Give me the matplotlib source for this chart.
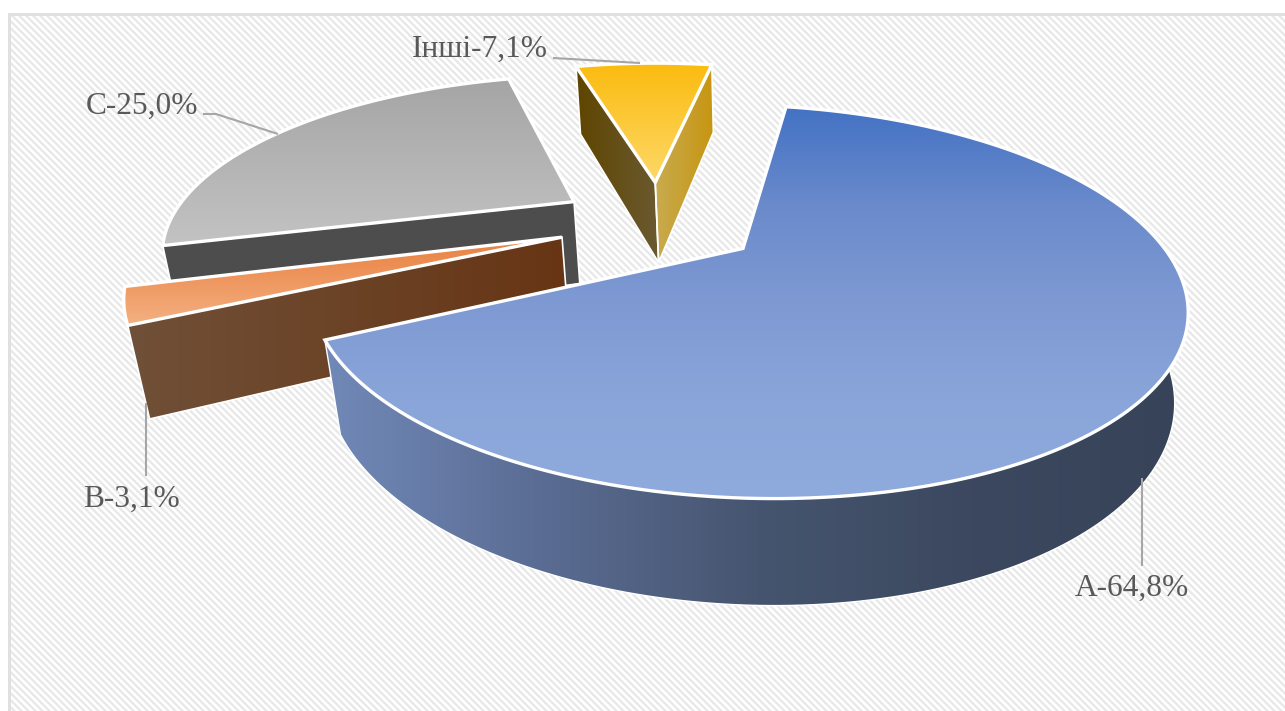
import numpy as np
import matplotlib
matplotlib.use("Agg")
import matplotlib.pyplot as plt
from matplotlib.colors import LinearSegmentedColormap
from matplotlib.patches import Polygon

W, H = 1285, 711

names = ["A", "B", "C", "Інші"]
shares = [64.8, 3.1, 25.0, 7.1]

# percent -> degrees, clockwise from the back of the pie
START_ANGLE = 10.5
EXPLODE = 0.25

# camera settings for the tilted pie, origin at the pie centre
CX, CY = 659, 222
RX, RY = 405, 168.4
DEPTH_Y = 0.26
DEPTH_Z = 0.03
THICK = 86.5
VANISH_X = 120

top_ramps = [
    ["#4472C4", "#6A8ACB", "#7F9AD3", "#8AA5D9", "#8FAADC"],
    ["#E97F3F", "#F4B183"],
    ["#A5A5A5", "#C3C3C3"],
    ["#FBBB0E", "#FDD868"],
]
big_wall = ["#7189B8", "#5A6C93", "#46556F", "#3B485F", "#364358"]
cut_walls = {1: ["#705038", "#673514"], 2: ["#4D4D4D", "#4D4D4D"], 3: ["#5F4500", "#6A5A30"]}
small_right_wall = ["#C8AC50", "#C79510"]
TEXT_COLOR = "#595959"
LEADER_COLOR = "#A6A6A6"


def project(x, y, z=0.0):
    w = 1 + DEPTH_Y * y + DEPTH_Z * z
    sx = CX + (RX * x + VANISH_X * DEPTH_Z * z) / w
    sy = CY + (-RY * y + THICK * z) / w
    return np.column_stack([sx, sy])


def gradient_fill(ax, verts, stops, vertical, zorder):
    x0, y0 = verts.min(axis=0)
    x1, y1 = verts.max(axis=0)
    ramp = LinearSegmentedColormap.from_list("ramp", stops)(np.linspace(0, 1, 256))[:, :3]
    img = ramp[:, None, :] if vertical else ramp[None, :, :]
    im = ax.imshow(img, extent=(x0, x1, y1, y0), origin="upper", aspect="auto",
                   interpolation="bilinear", zorder=zorder)
    im.set_clip_path(Polygon(verts, closed=True, transform=ax.transData))


def outline(ax, verts, lw, zorder):
    ax.add_patch(Polygon(verts, closed=True, fill=False, edgecolor="white",
                         linewidth=lw, joinstyle="miter", zorder=zorder))


def draw_slice(ax, i, a0, a1, base_z):
    mid = np.radians((a0 + a1) / 2)
    ox = EXPLODE * np.sin(mid)
    oy = EXPLODE * np.cos(mid)
    ang = np.radians(np.linspace(a0, a1, 200))
    arc_x = ox + np.sin(ang)
    arc_y = oy + np.cos(ang)

    apex_top = project(np.array([ox]), np.array([oy]))
    apex_low = project(np.array([ox]), np.array([oy]), 1.0)
    arc_top = project(arc_x, arc_y)
    arc_low = project(arc_x, arc_y, 1.0)
    top = np.vstack([apex_top, arc_top])

    if i == 0:
        # outer wall of the big slice
        wall = np.vstack([arc_top, arc_low[::-1]])
        gradient_fill(ax, wall, big_wall, False, base_z)
        outline(ax, wall, 1.0, base_z + 0.2)
    else:
        wall = np.vstack([arc_top[:1], apex_top, apex_low, arc_low[:1]])
        gradient_fill(ax, wall, cut_walls[i], False, base_z)
        outline(ax, wall, 1.2, base_z + 0.2)
    if i == 3:
        # the small slice shows its second cut face too
        right = np.vstack([apex_top, arc_top[-1:], arc_low[-1:], apex_low])
        gradient_fill(ax, right, small_right_wall, False, base_z)
        outline(ax, right, 1.2, base_z + 0.2)

    gradient_fill(ax, top, top_ramps[i], True, base_z + 0.5)
    outline(ax, top, 2.4, base_z + 0.6)


def main():
    fig = plt.figure(figsize=(W / 100, H / 100), dpi=100)
    ax = fig.add_axes([0, 0, 1, 1])
    ax.axis("off")

    # striped chart area with a grey frame
    yy, xx = np.mgrid[0:H, 0:W]
    stripes = 0.955 + 0.045 * np.clip(1.5 * np.cos(2 * np.pi * (xx - yy) / 7), -1, 1)
    stripes[:13, :] = 1.0
    stripes[:, :8] = 1.0
    stripes[13:16, 8:] = 0.875
    stripes[13:, 8:11] = 0.875
    ax.imshow(stripes, cmap="gray", vmin=0, vmax=1, extent=(0, W, H, 0), zorder=0,
              interpolation="nearest", aspect="auto")

    edges = START_ANGLE + np.concatenate([[0], np.cumsum(shares)]) * 3.6
    # back slices first so the nearer ones cover them
    draw_slice(ax, 3, edges[3], edges[4], 1)
    draw_slice(ax, 2, edges[2], edges[3], 2)
    draw_slice(ax, 1, edges[1], edges[2], 3)
    draw_slice(ax, 0, edges[0], edges[1], 4)

    # leaders and labels
    leaders = [
        ([1142, 1142], [478, 566]),
        ([146, 146], [403, 476]),
        ([203, 216, 278], [114, 114, 134]),
        ([553, 640], [58, 63]),
    ]
    label_pos = [(1132, 588), (132, 499), (142, 106), (480, 49)]
    for (lx, ly), name, share, (tx, ty) in zip(leaders, names, shares, label_pos):
        ax.plot(lx, ly, color=LEADER_COLOR, lw=1.5, zorder=10, solid_capstyle="butt")
        label = f"{name}-{share:.1f}%".replace(".", ",")
        ax.text(tx, ty, label, ha="center", va="center", fontsize=22.6,
                family="Liberation Serif", color=TEXT_COLOR, zorder=11)

    ax.set_xlim(0, W)
    ax.set_ylim(H, 0)
    fig.savefig("out.png", dpi=100)


main()
